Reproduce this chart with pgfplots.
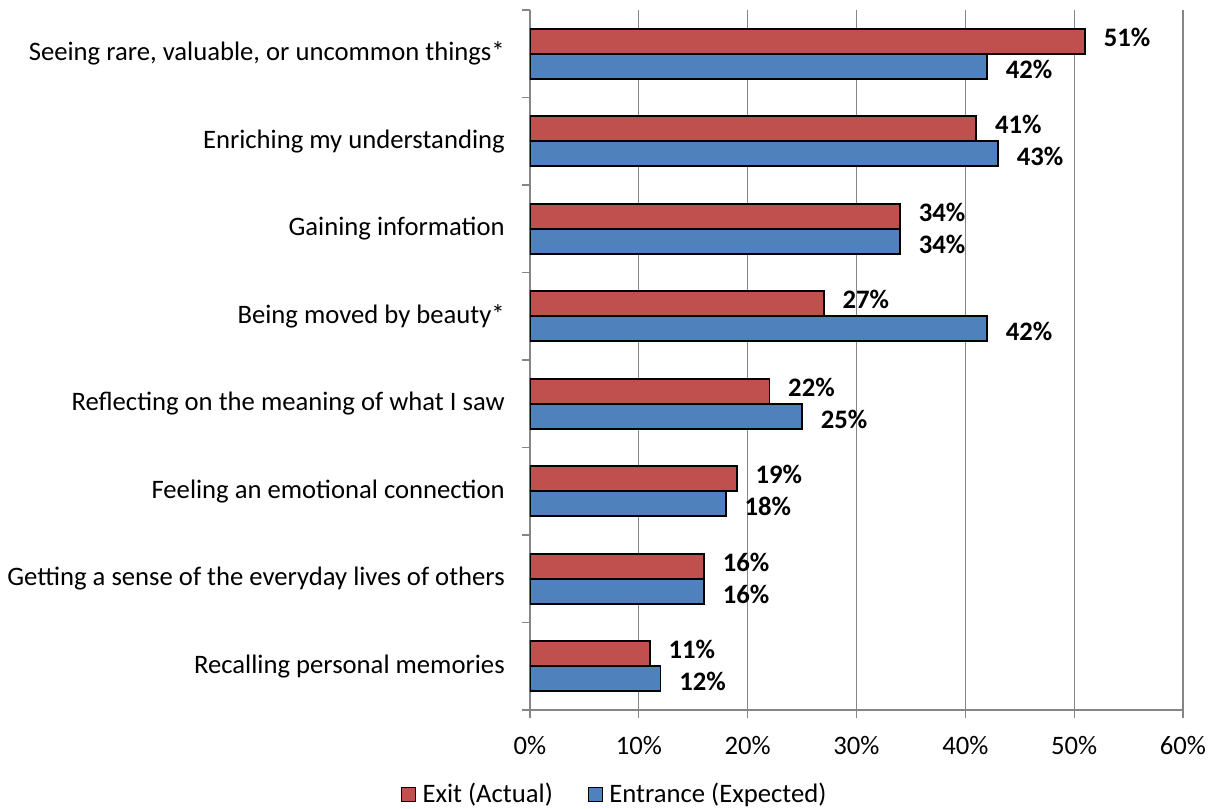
\documentclass[border=0pt]{standalone}
\usepackage{fontspec}
\setmainfont{Carlito}
\usepackage{pgfplots}
\pgfplotsset{compat=1.18}
\usetikzlibrary{calc}
\definecolor{exitred}{HTML}{C0504D}
\definecolor{entblue}{HTML}{4F81BD}
\definecolor{gridgray}{HTML}{868686}
\begin{document}
\fontsize{20}{24}\selectfont
\begin{tikzpicture}
\begin{axis}[
  name=ax,
  scale only axis,
  width=489.75pt, height=525pt,
  xbar, bar width=18.75pt,
  xmin=0, xmax=60,
  ymin=-0.5, ymax=7.5,
  y dir=reverse,
  axis x line*=bottom, axis y line*=left,
  axis line style={gridgray, line width=0.9pt},
  /pgf/number format/assume math mode=true,
  xtick={0,10,...,60},
  xticklabel={\pgfmathprintnumber{\tick}\%},
  xticklabel style={yshift=-6.5pt},
  xmajorgrids,
  major grid style={gridgray, line width=0.9pt},
  tick style={gridgray, line width=0.9pt},
  tick align=outside,
  major tick length=6pt,
  ytick={-0.5,0.5,...,7.5},
  yticklabels={},
  extra y ticks={0,1,...,7},
  extra y tick labels={{Seeing rare, valuable, or uncommon things*},{Enriching my understanding},{Gaining information},{Being moved by beauty*},{Reflecting on the meaning of what I saw},{Feeling an emotional connection},{Getting a sense of the everyday lives of others},{Recalling personal memories}},
  extra y tick style={major tick length=0pt, yticklabel style={inner sep=0pt, xshift=-18.75pt}},
  nodes near coords={\pgfmathprintnumber{\pgfplotspointmeta}\%},
  point meta=x,
  every node near coord/.append style={font=\bfseries, anchor=west, inner sep=0pt, xshift=13.5pt, text=black},
  legend style={at={(0.13,-0.121)}, anchor=center, draw=none, fill=none, legend columns=2,
    /tikz/every odd column/.append style={column sep=3pt},
    /tikz/every even column/.append style={column sep=24pt}},
  legend cell align=left,
]
\addplot[fill=exitred, draw=black, line width=1.2pt, bar shift=9.375pt,
  every node near coord/.append style={yshift=3pt},
  legend image code/.code={\draw[fill=exitred, draw=black, line width=0.9pt] (0pt,-5.25pt) rectangle (10.5pt,5.25pt);}]
  coordinates {(51,0) (41,1) (34,2) (27,3) (22,4) (19,5) (16,6) (11,7)};
\addplot[fill=entblue, draw=black, line width=1.2pt, bar shift=-9.375pt,
  every node near coord/.append style={yshift=-2pt},
  legend image code/.code={\draw[fill=entblue, draw=black, line width=0.9pt] (0pt,-5.25pt) rectangle (10.5pt,5.25pt);}]
  coordinates {(42,0) (43,1) (34,2) (42,3) (25,4) (18,5) (16,6) (12,7)};
\legend{Exit (Actual), Entrance (Expected)}
\end{axis}
\pgfresetboundingbox
\path[use as bounding box] ($(ax.south west)+(-397.5pt,-73.5pt)$) rectangle ($(ax.north east)+(23.25pt,7.5pt)$);
\end{tikzpicture}
\end{document}
